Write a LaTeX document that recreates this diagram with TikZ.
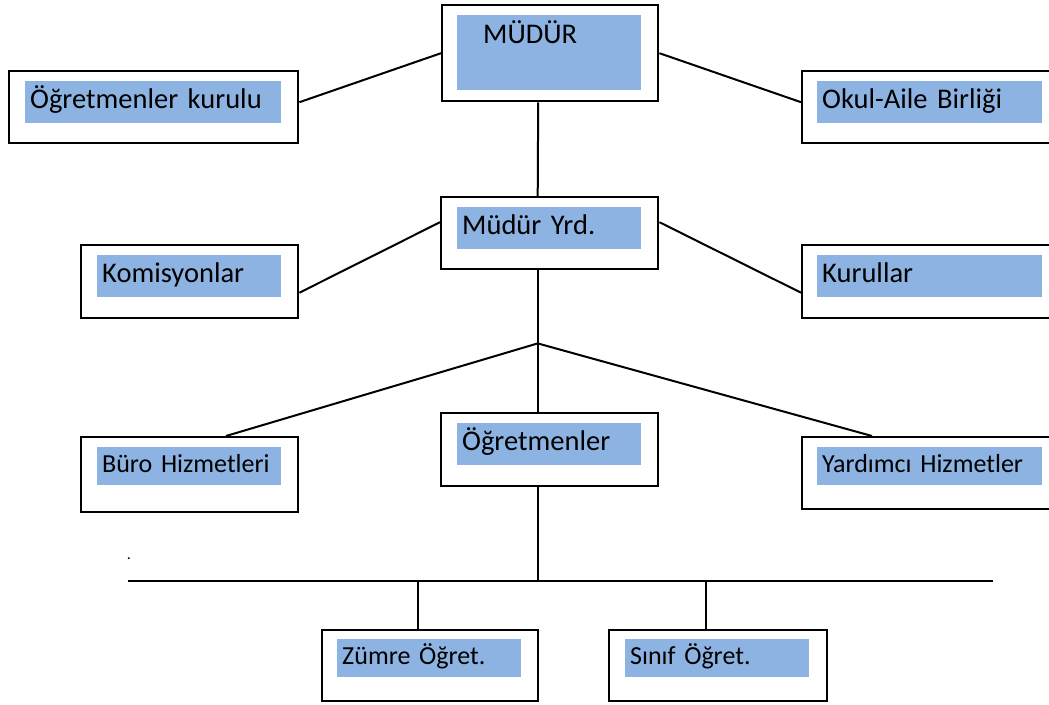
\documentclass[tikz,border=0pt]{standalone}
\usepackage{fontspec}
\setmainfont{Carlito}
\usepackage{xcolor}
\usepackage{tikz}
\usetikzlibrary{positioning, calc}

\definecolor{lblue}{RGB}{141,179,226}
\newcommand{\bigtxt}{\fontsize{28.5}{34}\selectfont}
\newcommand{\smalltxt}{\fontsize{26}{31}\selectfont}

\begin{document}
\begin{tikzpicture}[
    x=1pt, y=-1pt,
    box/.style={rectangle, draw, line width=2.4pt, inner sep=0pt, anchor=north west, minimum width=217pt, minimum height=72pt},
    lbl/.style={rectangle, fill=lblue, inner xsep=5pt, inner ysep=0pt, minimum height=42pt, text width=174pt, align=left, font=\bigtxt, text height=19pt, text depth=6pt},
    lbl_small/.style={lbl, minimum height=38pt, font=\smalltxt, text height=17pt, text depth=5pt},
    link/.style={line width=2pt},
    bar/.style={line width=2.4pt}
]
    \path[use as bounding box] (0,0) rectangle (1049,704);
    \clip (0,0) rectangle (1049,704);

    % Ust kademe
    \node[box, minimum width=216pt, minimum height=96pt] (mudur) at (441,4) {};
    \node[box, minimum width=289pt] (kurul) at (8,70) {};
    \node[box, minimum width=260pt] (veli) at (801,70) {};
    \node[lbl, minimum height=75pt, text height=28pt, text depth=47pt, below right=11pt and 16pt of mudur.north west] (mudur-t) {\hspace*{21pt}MÜDÜR};
    \node[lbl, text width=246pt, below right=11pt and 17pt of kurul.north west] (kurul-t) {Öğretmenler kurulu};
    \node[lbl, text width=215pt, below right=11pt and 16pt of veli.north west] (veli-t) {Okul-Aile Birliği};

    % Mudur yardimcisi
    \node[box] (yrd) at (440,196) {};
    \node[box, minimum height=73pt] (komis) at (80,244) {};
    \node[box, minimum width=260pt, minimum height=73pt] (kurullar) at (801,244) {};
    \node[lbl, below right=11pt and 17pt of yrd.north west] (yrd-t) {Müdür Yrd.};
    \node[lbl, below right=11pt and 17pt of komis.north west] (komis-t) {Komisyonlar};
    \node[lbl, text width=215pt, below right=11pt and 16pt of kurullar.north west] (kurullar-t) {Kurullar};

    % Hizmetler ve ogretmenler
    \node[box, minimum height=73pt] (ogret) at (440,412) {};
    \node[box, minimum height=75pt] (buro) at (80,436) {};
    \node[box, minimum width=260pt] (yard) at (801,436) {};
    \node[lbl, below right=11pt and 17pt of ogret.north west] (ogret-t) {Öğretmenler};
    \node[lbl_small, below right=11pt and 17pt of buro.north west] (buro-t) {Büro Hizmetleri};
    \node[lbl_small, text width=215pt, below right=11pt and 16pt of yard.north west] (yard-t) {Yardımcı Hizmetler};

    % Alt kademe
    \node[box, minimum width=216pt, minimum height=71pt] (zumre) at (321,629) {};
    \node[box, minimum width=218pt, minimum height=71pt] (sinif) at (608,629) {};
    \node[lbl_small, below right=10pt and 16pt of zumre.north west] (zumre-t) {Zümre Öğret.};
    \node[lbl_small, below right=10pt and 17pt of sinif.north west] (sinif-t) {Sınıf Öğret.};

    \node[font=\fontsize{16}{16}\selectfont, inner sep=0pt, anchor=base] (nokta) at (129,559) {.};

    % Baglantilar
    \draw[link] (mudur.west) -- ([yshift=5pt]kurul.east);
    \draw[link] (mudur.east) -- ([yshift=5pt]veli.west);
    \draw[link] ([xshift=-12pt]mudur.south) -- ([xshift=-12pt]yrd.north);

    \draw[link] ([yshift=11pt]yrd.west) -- ([yshift=-11pt]komis.east);
    \draw[link] ([yshift=11pt]yrd.east) -- ([yshift=-11pt]kurullar.west);
    \draw[link] ([xshift=-12pt]yrd.south) -- ([xshift=-12pt]ogret.north);

    \coordinate[below=73pt of yrd.south, xshift=-12pt] (fork);
    \draw[link] (fork) -- ([xshift=146pt]buro.north west);
    \draw[link] (fork) -- ([xshift=71pt]yard.north west);

    \coordinate (barL) at (128,581);
    \coordinate (barR) at (993,581);
    \draw[bar] (barL) -- (barR);
    \draw[link] ([xshift=-12pt]ogret.south) -- (barL -| fork);
    \draw[link] ([xshift=-12pt]zumre.north) -- +(0,-48);
    \draw[link] ([xshift=-12pt]sinif.north) -- +(0,-48);
\end{tikzpicture}
\end{document}
